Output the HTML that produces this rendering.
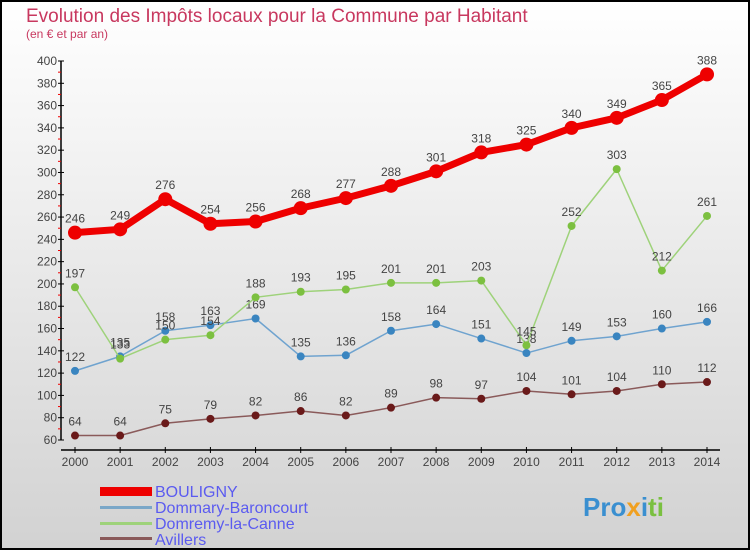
<!DOCTYPE html>
<html><head><meta charset="utf-8"><style>
body{margin:0;width:750px;height:550px;overflow:hidden;font-family:"Liberation Sans",sans-serif}
</style></head><body>
<svg width="750" height="550" xmlns="http://www.w3.org/2000/svg">
<defs><linearGradient id="bg" x1="0" y1="0" x2="0" y2="1"><stop offset="0" stop-color="#ffffff"/><stop offset="1" stop-color="#d2d2d2"/></linearGradient></defs>
<rect x="1" y="1" width="748" height="548" fill="url(#bg)" stroke="#000" stroke-width="2"/>
<text x="26" y="22" font-size="19" fill="#c8385f">Evolution des Impôts locaux pour la Commune par Habitant</text>
<text x="26" y="38" font-size="12" fill="#c8385f">(en € et par an)</text>
<g id="axes"></g><g id="series"></g>
<g font-size="16" fill="#5b5bf0">
<rect x="100" y="487" width="52" height="9" fill="#e00"/><text x="155" y="497">BOULIGNY</text>
<rect x="100" y="506" width="52" height="3" fill="#7aa7c8"/><text x="155" y="513">Dommary-Baroncourt</text>
<rect x="100" y="522" width="52" height="3" fill="#9ed27a"/><text x="155" y="529">Domremy-la-Canne</text>
<rect x="100" y="537" width="52" height="3" fill="#8a5a5a"/><text x="155" y="545">Avillers</text>
</g>
<text x="583" y="516" font-size="26" font-weight="bold" fill="#3a8fd0">Pro<tspan fill="#f0a020">x</tspan><tspan fill="#3a8fd0">i</tspan><tspan fill="#7ac040">ti</tspan></text>
</svg>
<script>
const years=[2000,2001,2002,2003,2004,2005,2006,2007,2008,2009,2010,2011,2012,2013,2014];
const bouligny=[246,249,276,254,256,268,277,288,301,318,325,340,349,365,388];
const dommary=[122,135,158,163,169,135,136,158,164,151,138,149,153,160,166];
const domremy=[197,133,150,154,188,193,195,201,201,203,145,252,303,212,261];
const avillers=[64,64,75,79,82,86,82,89,98,97,104,101,104,110,112];
const yTicks=[60,80,100,120,140,160,180,200,220,240,260,280,300,320,340,360,380,400];
const NS="http://www.w3.org/2000/svg";
const X=i=>75+i*(632/14), Y=v=>440-(v-60)*(379/340);
function mk(t,a,p){const e=document.createElementNS(NS,t);for(const k in a)e.setAttribute(k,a[k]);p.appendChild(e);return e;}
const ax=document.getElementById('axes');
let l=mk('line',{x1:61,y1:61,x2:61,y2:440,stroke:'#000','stroke-width':1.5},ax);


l=mk('line',{x1:61,y1:450,x2:720,y2:450,stroke:'#000','stroke-width':1.5},ax);


yTicks.forEach((v,i)=>{
 mk('line',{x1:58,y1:Y(v),x2:64,y2:Y(v),stroke:'#000'},ax);
 if(i<yTicks.length-1)mk('line',{x1:58,y1:Y(v+10),x2:61,y2:Y(v+10),stroke:'#e00'},ax);
 const t=mk('text',{x:57,y:Y(v)+4,'font-size':12,fill:'#444','text-anchor':'end'},ax);t.textContent=v;
 
 
});
years.forEach((y,i)=>{
 mk('line',{x1:X(i),y1:447,x2:X(i),y2:453,stroke:'#000'},ax);
 const t=mk('text',{x:X(i),y:466,'font-size':12,fill:'#444','text-anchor':'middle'},ax);t.textContent=y;
 
 
});
const sg=document.getElementById('series');
function series(name,vals,col,dot,w,r){
 const g=mk('g',{},sg);
 
 
 mk('polyline',{points:vals.map((v,i)=>X(i)+','+Y(v)).join(' '),fill:'none',stroke:col,'stroke-width':w,'stroke-linejoin':'round'},g);
 vals.forEach((v,i)=>{
  const c=mk('circle',{cx:X(i),cy:Y(v),r:r,fill:dot},g);
  
  
  const t=mk('text',{x:X(i),y:Y(v)-10,'font-size':12,fill:'#444','text-anchor':'middle'},g);t.textContent=v;
  
  
 });
}
series('avillers-series',avillers,'#8a5a5a','#6a1a1a',1.5,4);
series('dommary-series',dommary,'#6fa3cf','#3a85c0',1.5,4);
series('domremy-series',domremy,'#9ed27a','#7cc040',1.5,4);
series('bouligny-series',bouligny,'#e00','#e00',7,7);
</script>
</body></html>
